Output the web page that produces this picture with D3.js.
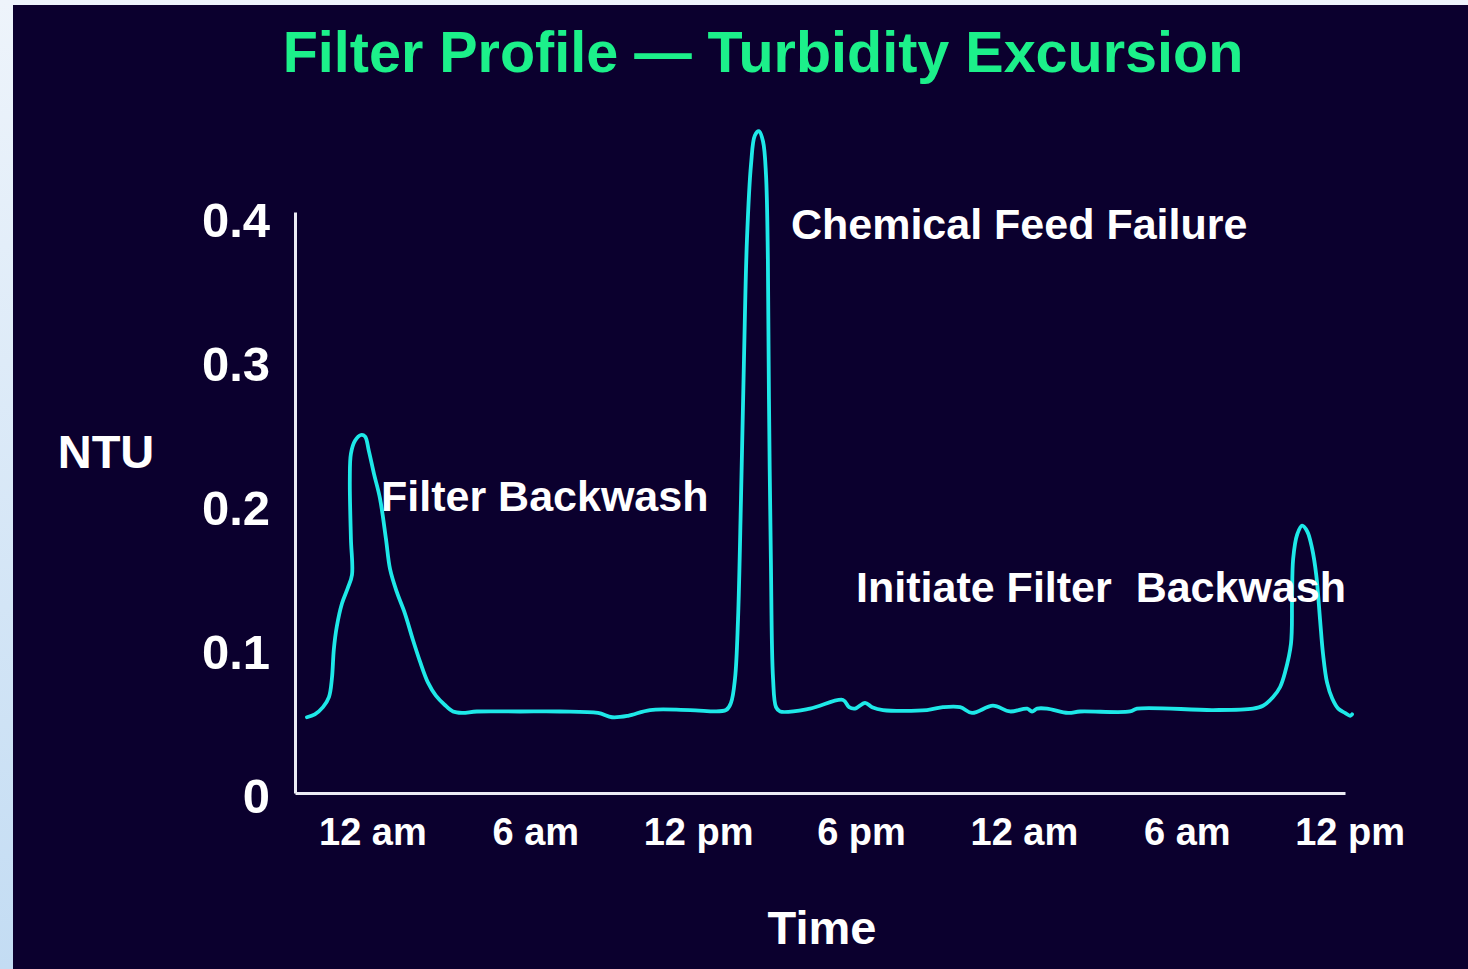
<!DOCTYPE html>
<html>
<head>
<meta charset="utf-8">
<script src="https://cdn.jsdelivr.net/npm/d3@7"></script>
<style>
  body { margin: 0; background: linear-gradient(to bottom, #eef4fb, #c3dcf3); }
  svg { display: block; }
</style>
</head>
<body>
<div id="chart"></div>
<script>
// hours from midnight of day 1, turbidity in NTU
const hours = [-2.43, -2.14, -1.84, -1.62, -1.51, -1.44, -1.33, -1.14, -0.92, -0.77, -0.81, -0.85, -0.81, -0.66, -0.44, -0.29, -0.15, 0.04, 0.26, 0.48, 0.63, 0.88, 1.18, 1.47, 1.73, 2.03, 2.32, 2.65, 2.95, 3.28, 3.83, 5.42, 6.89, 8.29, 8.81, 9.40, 10.21, 11.68, 13.01, 13.19, 13.34, 13.45, 13.56, 13.67, 13.78, 13.93, 14.07, 14.22, 14.37, 14.48, 14.55, 14.59, 14.66, 14.74, 14.85, 15.00, 16.10, 17.32, 17.54, 17.76, 18.13, 18.39, 18.79, 20.41, 21.00, 21.63, 22.07, 22.84, 23.47, 24.10, 24.28, 24.47, 24.83, 25.61, 26.05, 27.89, 28.15, 30.95, 32.42, 32.79, 33.16, 33.42, 33.60, 33.82, 33.86, 33.90, 34.05, 34.23, 34.42, 34.60, 34.75, 34.89, 35.00, 35.15, 35.34, 35.56, 35.81, 36.00, 36.07];
const ntu = [0.054, 0.056, 0.061, 0.068, 0.081, 0.101, 0.117, 0.133, 0.144, 0.153, 0.178, 0.219, 0.237, 0.246, 0.250, 0.249, 0.239, 0.223, 0.206, 0.178, 0.157, 0.141, 0.126, 0.108, 0.093, 0.078, 0.069, 0.0625, 0.058, 0.057, 0.058, 0.058, 0.058, 0.057, 0.054, 0.055, 0.059, 0.059, 0.059, 0.064, 0.081, 0.122, 0.206, 0.303, 0.386, 0.438, 0.458, 0.461, 0.454, 0.431, 0.372, 0.275, 0.164, 0.081, 0.061, 0.058, 0.060, 0.066, 0.061, 0.060, 0.064, 0.061, 0.059, 0.059, 0.061, 0.061, 0.057, 0.062, 0.058, 0.060, 0.058, 0.060, 0.060, 0.057, 0.058, 0.058, 0.060, 0.059, 0.060, 0.062, 0.068, 0.075, 0.085, 0.105, 0.136, 0.164, 0.181, 0.187, 0.183, 0.171, 0.153, 0.122, 0.098, 0.078, 0.067, 0.060, 0.057, 0.055, 0.056];

const tickHours = [0, 6, 12, 18, 24, 30, 36];
const tickLabels = ['12 am', '6 am', '12 pm', '6 pm', '12 am', '6 am', '12 pm'];
const yTicks = [0, 0.1, 0.2, 0.3, 0.4];

const notes = [
  { text: 'Chemical Feed Failure', h: 15.4, v: 0.386 },
  { text: 'Filter Backwash', h: 0.3, v: 0.197 },
  { text: 'Initiate Filter\u00a0 Backwash', h: 17.8, v: 0.134 }
];

const width = 1468, height = 969;
const bold = 'Arial, "Liberation Sans", sans-serif';

const svg = d3.select('#chart').append('svg')
  .attr('width', width)
  .attr('height', height);

svg.append('rect')
  .attr('x', 13).attr('y', 5)
  .attr('width', width - 13).attr('height', height - 5)
  .attr('fill', '#0b002e');

const x = d3.scaleLinear().domain([-2.87, 35.81]).range([295, 1345]);
const y = d3.scaleLinear().domain([0, 0.4]).range([795, 219]);

// title
svg.append('text')
  .attr('x', 763).attr('y', 72)
  .attr('text-anchor', 'middle')
  .attr('font-family', bold).attr('font-weight', 'bold')
  .attr('font-size', 57.5)
  .attr('fill', '#1cf08a')
  .text('Filter Profile \u2014 Turbidity Excursion');

// axis lines
svg.append('g')
  .attr('transform', `translate(0,${y(0) - 2})`)
  .call(d3.axisBottom(x).tickValues([]).tickSizeOuter(0))
  .call(g => g.select('.domain').attr('stroke', '#ececf4').attr('stroke-width', 3));

svg.append('g')
  .attr('transform', `translate(${x.range()[0]},0)`)
  .call(d3.axisLeft(d3.scaleLinear().domain([0, 0.41]).range([y(0) - 2, 212])).tickValues([]).tickSizeOuter(0))
  .call(g => g.select('.domain').attr('stroke', '#ececf4').attr('stroke-width', 3));

// y tick labels
svg.append('g').selectAll('text')
  .data(yTicks)
  .join('text')
  .attr('x', 270)
  .attr('y', d => y(d))
  .attr('dy', '0.36em')
  .attr('text-anchor', 'end')
  .attr('font-family', bold).attr('font-weight', 'bold')
  .attr('font-size', 49)
  .attr('fill', '#ffffff')
  .text(d => d === 0 ? '0' : d3.format('.1f')(d));

// x tick labels
svg.append('g').selectAll('text')
  .data(tickHours)
  .join('text')
  .attr('x', d => x(d))
  .attr('y', 845)
  .attr('text-anchor', 'middle')
  .attr('font-family', bold).attr('font-weight', 'bold')
  .attr('font-size', 38)
  .attr('fill', '#ffffff')
  .text((d, i) => tickLabels[i]);

// axis titles
svg.append('text')
  .attr('x', 106).attr('y', 468)
  .attr('text-anchor', 'middle')
  .attr('font-family', bold).attr('font-weight', 'bold')
  .attr('font-size', 47)
  .attr('fill', '#ffffff')
  .text('NTU');

svg.append('text')
  .attr('x', 822).attr('y', 944)
  .attr('text-anchor', 'middle')
  .attr('font-family', bold).attr('font-weight', 'bold')
  .attr('font-size', 47)
  .attr('fill', '#ffffff')
  .text('Time');

// turbidity trace
const points = hours.map((h, i) => ({ h: h, v: ntu[i] }));
const line = d3.line()
  .x(d => x(d.h))
  .y(d => y(d.v))
  .curve(d3.curveCatmullRom.alpha(0.5));

svg.append('path')
  .datum(points)
  .attr('d', line)
  .attr('fill', 'none')
  .attr('stroke', '#1ee8e8')
  .attr('stroke-width', 3.8)
  .attr('stroke-linejoin', 'round')
  .attr('stroke-linecap', 'round');

// annotations
svg.append('g').selectAll('text')
  .data(notes)
  .join('text')
  .attr('x', d => x(d.h))
  .attr('y', d => y(d.v))
  .attr('font-family', bold).attr('font-weight', 'bold')
  .attr('font-size', 43)
  .attr('fill', '#ffffff')
  .text(d => d.text);
</script>
</body>
</html>
